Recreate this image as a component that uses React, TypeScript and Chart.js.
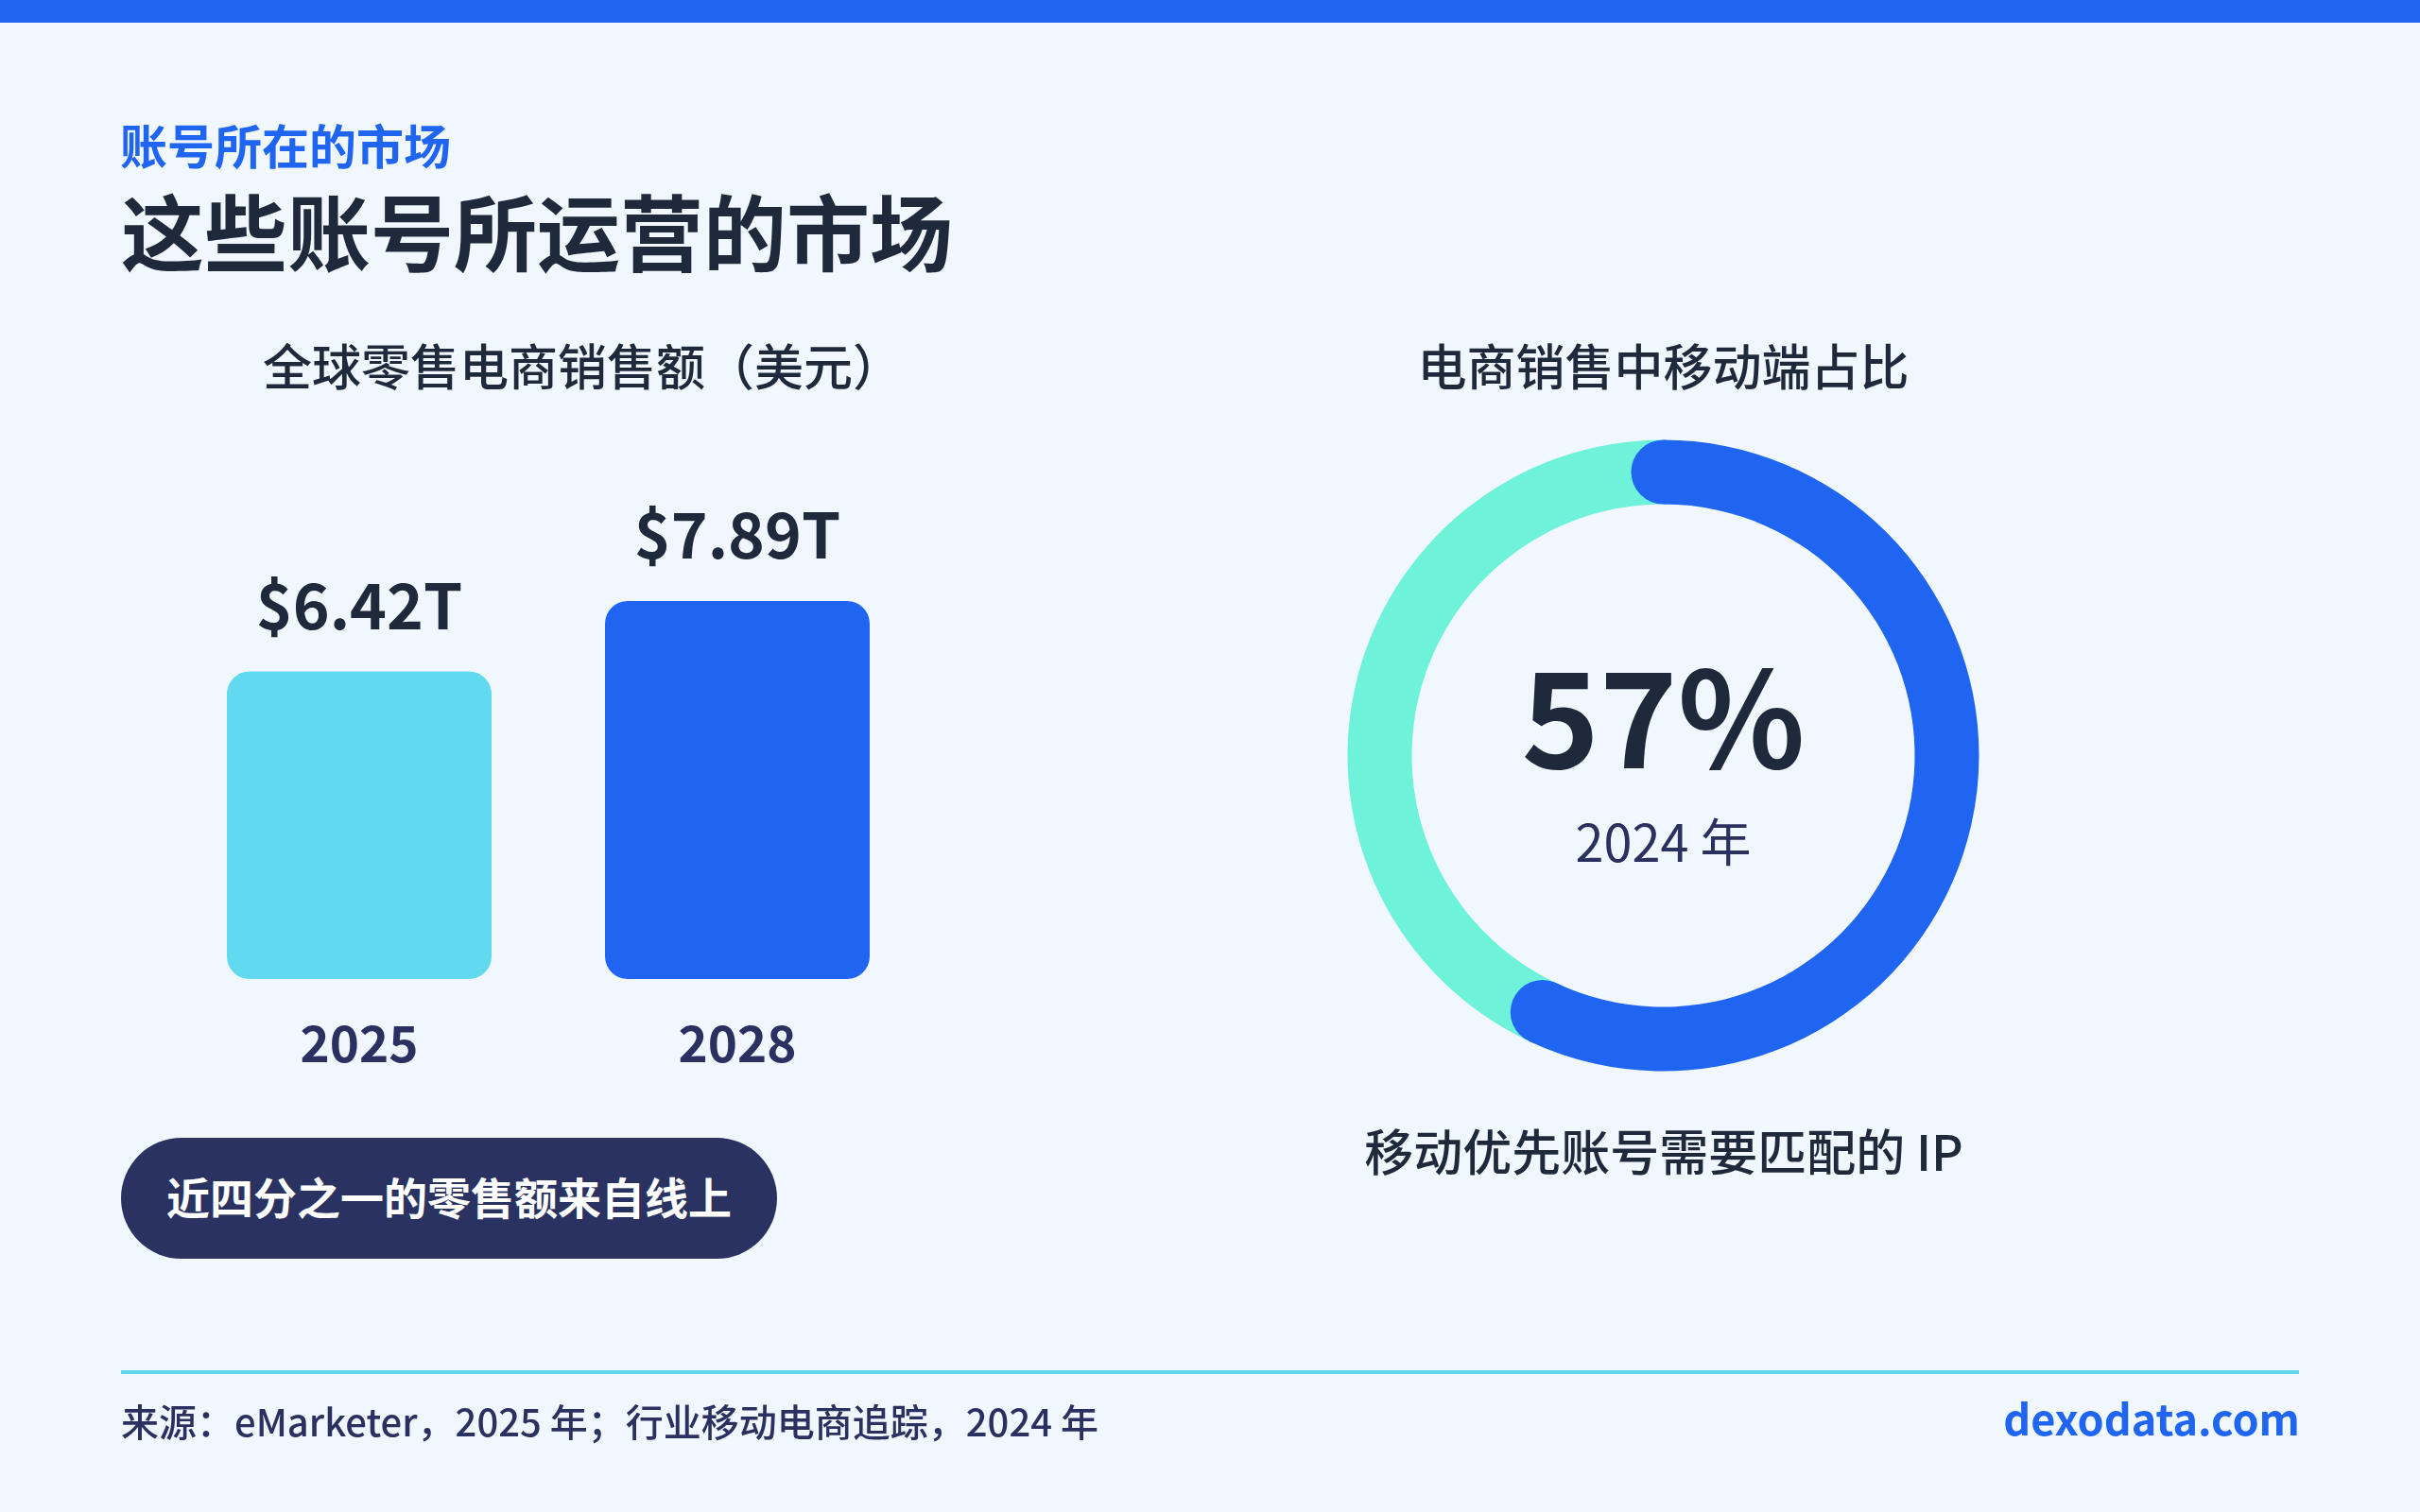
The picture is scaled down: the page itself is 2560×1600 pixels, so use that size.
import React, { useEffect, useRef } from "react";
import { Chart, registerables } from "chart.js";

Chart.register(...registerables);

const FONT = '"Noto Sans CJK SC", "Noto Sans", sans-serif';

// Bar chart data
const barCategories = ["2025", "2028"];
const barValues = [6.42, 7.89];
const barColors = ["#61D9EF", "#1F65F1"];

// Doughnut data
const shareLabels = ["移动端", "其他"];
const shareValues = [57, 43];
const shareColors = ["#1F65F1", "#6EF2DA"];
const shareYear = "2024 年";

const DARK = "#1E293B";
const NAVY = "#2A3160";
const BLUE = "#1F65F1";

function fmtMoney(v: number) {
  return "$" + v.toFixed(2) + "T";
}

export default function App() {
  const barRef = useRef<HTMLCanvasElement>(null);
  const donutRef = useRef<HTMLCanvasElement>(null);

  useEffect(() => {
    const barLabelPlugin = {
      id: "barValueLabels",
      afterDatasetsDraw(chart: any) {
        const ctx = chart.ctx;
        const meta = chart.getDatasetMeta(0);
        ctx.save();
        ctx.font = `bold 66px ${FONT}`;
        ctx.fillStyle = DARK;
        ctx.textAlign = "center";
        ctx.textBaseline = "alphabetic";
        meta.data.forEach((bar: any, i: number) => {
          ctx.fillText(fmtMoney(barValues[i]), bar.x, bar.y - 45);
        });
        ctx.restore();
      },
    };

    const bar = new Chart(barRef.current!, {
      type: "bar",
      data: {
        labels: barCategories,
        datasets: [
          {
            data: barValues,
            backgroundColor: barColors,
            borderRadius: 24,
            borderSkipped: false,
            barPercentage: 0.7,
            categoryPercentage: 1,
          },
        ],
      },
      options: {
        animation: false,
        responsive: false,
        maintainAspectRatio: false,
        events: [],
        layout: { padding: { left: 180, right: 1580, top: 529, bottom: 428.4 } },
        plugins: { legend: { display: false }, tooltip: { enabled: false } },
        scales: {
          x: {
            grid: { display: false, drawTicks: false },
            border: { display: false },
            ticks: {
              color: NAVY,
              padding: 36,
              font: { family: FONT, size: 53, weight: "bold", lineHeight: 1.2 },
            },
          },
          y: { display: false, min: 0, max: 10 },
        },
      },
      plugins: [barLabelPlugin],
    } as any);

    const capPlugin = {
      id: "roundCaps",
      afterDatasetsDraw(chart: any) {
        const ctx = chart.ctx;
        const arc: any = chart.getDatasetMeta(0).data[0];
        const p = arc.getProps(["x", "y", "startAngle", "endAngle", "innerRadius", "outerRadius"], true);
        const mid = (p.innerRadius + p.outerRadius) / 2;
        const capR = (p.outerRadius - p.innerRadius) / 2;
        ctx.save();
        ctx.fillStyle = shareColors[0];
        [p.startAngle, p.endAngle].forEach((a: number) => {
          ctx.beginPath();
          ctx.arc(p.x + mid * Math.cos(a), p.y + mid * Math.sin(a), capR, 0, Math.PI * 2);
          ctx.fill();
        });
        ctx.restore();
      },
      afterDraw(chart: any) {
        const ctx = chart.ctx;
        const arc: any = chart.getDatasetMeta(0).data[0];
        const cx = arc.x;
        const cy = arc.y;
        const total = shareValues.reduce((a, b) => a + b, 0);
        const pct = Math.round((shareValues[0] / total) * 100) + "%";
        ctx.save();
        ctx.textAlign = "center";
        ctx.textBaseline = "alphabetic";
        ctx.fillStyle = DARK;
        ctx.font = `bold 140px ${FONT}`;
        ctx.fillText(pct, cx, cy + 13.5);
        ctx.fillStyle = NAVY;
        ctx.font = `54px ${FONT}`;
        ctx.fillText(shareYear, cx, cy + 112.5);
        ctx.restore();
      },
    };

    const donut = new Chart(donutRef.current!, {
      type: "doughnut",
      data: {
        labels: shareLabels,
        datasets: [
          {
            data: shareValues,
            backgroundColor: shareColors,
            borderWidth: 0,
            hoverOffset: 0,
          },
        ],
      },
      options: {
        animation: false,
        responsive: false,
        maintainAspectRatio: false,
        events: [],
        cutout: 266,
        layout: { padding: { left: 1425.5, right: 466.5, top: 465.5, bottom: 466.5 } },
        plugins: { legend: { display: false }, tooltip: { enabled: false } },
      },
      plugins: [capPlugin],
    } as any);

    return () => {
      bar.destroy();
      donut.destroy();
    };
  }, []);

  const abs = (s: React.CSSProperties): React.CSSProperties => ({
    position: "absolute",
    whiteSpace: "nowrap",
    fontFamily: FONT,
    margin: 0,
    ...s,
  });

  return (
    <div
      style={{
        position: "absolute",
        left: 0,
        top: 0,
        width: 2560,
        height: 1600,
        overflow: "hidden",
        background: "#F0F7FE",
        fontFamily: FONT,
      }}
    >
      <div style={abs({ left: 0, top: 0, width: 2560, height: 24, background: BLUE })} />
      <div style={abs({ left: 127, top: 127, fontSize: 50, lineHeight: "50px", fontWeight: 700, color: BLUE })}>
        账号所在的市场
      </div>
      <div style={abs({ left: 128, top: 198, fontSize: 88, lineHeight: "88px", fontWeight: 700, color: DARK })}>
        这些账号所运营的市场
      </div>
      <div style={abs({ left: 278, top: 359.5, fontSize: 52, lineHeight: "52px", fontWeight: 500, color: DARK })}>
        全球零售电商销售额（美元）
      </div>
      <div
        style={abs({
          left: 1259.5,
          width: 1000,
          textAlign: "center",
          top: 359.5,
          fontSize: 52,
          lineHeight: "52px",
          fontWeight: 500,
          color: DARK,
        })}
      >
        电商销售中移动端占比
      </div>

      <canvas ref={barRef} width={2560} height={1600} style={{ position: "absolute", left: 0, top: 0, width: 2560, height: 1600 }} />
      <canvas ref={donutRef} width={2560} height={1600} style={{ position: "absolute", left: 0, top: 0, width: 2560, height: 1600 }} />

      <div
        style={abs({
          left: 128,
          top: 1204,
          width: 694,
          height: 128,
          borderRadius: 64,
          background: "#293260",
          display: "flex",
          alignItems: "center",
          boxSizing: "border-box",
          paddingLeft: 48,
          paddingBottom: 6,
        })}
      >
        <span style={{ fontSize: 46, lineHeight: "46px", fontWeight: 700, color: "#FFFFFF" }}>近四分之一的零售额来自线上</span>
      </div>

      <div
        style={abs({
          left: 1260,
          width: 1000,
          textAlign: "center",
          top: 1191,
          fontSize: 52,
          lineHeight: "52px",
          fontWeight: 500,
          color: DARK,
        })}
      >
        移动优先账号需要匹配的 IP
      </div>

      <div style={abs({ left: 128, top: 1450, width: 2304, height: 4, background: "#5FD8EF" })} />
      <div style={abs({ left: 128, top: 1482.5, fontSize: 40, lineHeight: "40px", fontWeight: 500, color: NAVY })}>
        来源：eMarketer，2025 年；行业移动电商追踪，2024 年
      </div>
      <div
        style={abs({
          right: 2560 - 2433,
          top: 1477,
          fontSize: 45,
          lineHeight: "45px",
          fontWeight: 700,
          color: BLUE,
          textAlign: "right",
        })}
      >
        dexodata.com
      </div>
    </div>
  );
}
